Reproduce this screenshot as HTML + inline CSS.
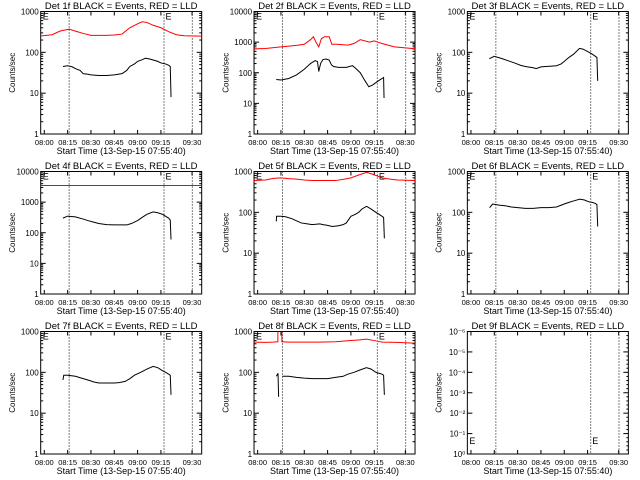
<!DOCTYPE html>
<html><head><meta charset="utf-8"><style>
html,body{margin:0;padding:0;background:#fff;}
svg{display:block;}
text{font-family:"Liberation Sans",sans-serif;fill:#000;}
</style></head><body>
<svg id="chart" width="640" height="480" viewBox="0 0 640 480"></svg>
<script>
// ---- data (minutes after 08:00, counts/sec) ----
const tickLabels1 = ["08:00","08:15","08:30","08:45","09:00","09:15","09:30"];
const tickLabels2 = ["08:00","08:15","08:30","08:45","09:00","09:15","08:30"];
const tickMinutes = [0,15,30,45,60,75,95];
const markerMinutes = [16,77,95.2];
const titles = ["Det 1f","Det 2f","Det 3f","Det 4f","Det 5f","Det 6f","Det 7f","Det 8f","Det 9f"];
const decades = [3,4,3,4,3,3,3,3,6];

const blackT1 = [12,15,18,20,23,25,28,30,35,40,45,50,53,55,58,60,63,65,68,70,73,75,78,80,81,81.5];
const blackV1 = [45,47,44,40,36,30,29,28,27,27,28,30,36,45,52,60,66,72,68,65,60,55,52,48,45,8];
const redT1 = [-3,5,10,16,20,25,30,40,45,50,55,60,63,66,70,75,80,85,90,100,102];
const redV1 = [250,270,330,370,330,290,260,260,265,280,400,500,560,540,460,400,320,270,255,250,250];

const blackT2 = [12,15,20,25,30,34,37,38.5,39.3,40.5,42,44,46,47.5,48.8,52,57,61,63,66,69,71.5,74,77.8,81,81.3];
const blackV2 = [60,58,65,85,130,200,250,230,110,200,270,280,260,180,160,150,150,170,140,100,55,35,40,55,70,15];
const redT2 = [-3,5,15,25,30,34,35.9,37.5,39.3,41,43,46,47.7,51,58,62,66,72,75,80,88,102];
const redV2 = [600,620,700,780,850,1200,1500,1000,700,1300,1500,1500,850,850,800,900,1200,1000,1100,900,700,600];

const blackT3 = [11.8,15,20,24,28,32,35,40,42,45,48,52,55,58,60,63,66,69.8,72,76,78,80,81,81.5];
const blackV3 = [70,80,70,62,55,48,45,42,40,44,45,46,47,52,60,75,90,125,120,100,90,80,75,20];
const redT3 = [];
const redV3 = [];

const blackT4 = [12,15,20,25,28,32,35,40,45,50,53,56,60,63,66,70,73,76,80,81,81.5];
const blackV4 = [300,350,330,280,250,220,200,185,180,180,180,200,250,320,400,480,450,400,300,260,60];
const redT4 = [-3,102];
const redV4 = [3500,3500];

const blackT5 = [12,12.2,15,18,22,25,28,32,35,40,42,45,48,52,55,57,60,63,65,67,70,73,76,78,80,81,81.5];
const blackV5 = [60,80,80,78,70,62,55,52,50,52,50,48,45,47,50,55,80,90,100,120,140,120,100,90,80,75,23];
const redT5 = [-3,5,10,15,20,25,30,35,40,50,55,60,65,70,73,76,80,85,90,102];
const redV5 = [600,620,680,700,670,650,620,600,600,600,640,700,820,950,880,800,700,650,620,600];

const blackT6 = [12,13,14,18,22,26,30,35,40,45,50,55,60,63,66,70,73,76,78,80,81,81.5];
const blackV6 = [130,145,160,150,145,135,130,125,125,130,130,135,160,175,190,210,200,180,175,165,155,45];
const redT6 = [];
const redV6 = [];

const blackT7 = [12,12.5,15,20,25,28,32,35,40,45,48,52,55,58,62,66,70,73,76,78,80,81,81.5];
const blackV7 = [65,85,85,80,70,65,58,55,55,55,56,60,70,85,100,120,140,130,110,100,90,85,28];
const redT7 = [-3,102];
const redV7 = [1050,1050];

const blackT8 = [12,12.8,13.1,13.5,16,16.1,20,25,30,35,40,45,50,55,58,62,66,70,73,76,78,80,81,81.5];
const blackV8 = [80,90,95,25,null,80,80,75,72,70,70,70,75,80,90,100,115,130,120,100,95,90,85,28];
const redT8 = [-3,5,10,13,13.1,15.5,15.6,20,30,40,50,60,65,70,75,80,90,100,102];
const redV8 = [550,540,550,560,5000,5000,560,550,550,550,560,600,620,650,600,550,540,520,520];

const blackT9 = [];
const blackV9 = [];
const redT9 = [];
const redV9 = [];

const blackTs=[blackT1,blackT2,blackT3,blackT4,blackT5,blackT6,blackT7,blackT8,blackT9];
const blackVs=[blackV1,blackV2,blackV3,blackV4,blackV5,blackV6,blackV7,blackV8,blackV9];
const redTs=[redT1,redT2,redT3,redT4,redT5,redT6,redT7,redT8,redT9];
const redVs=[redV1,redV2,redV3,redV4,redV5,redV6,redV7,redV8,redV9];

const NS="http://www.w3.org/2000/svg";
const svg=document.getElementById("chart");
function mk(tag,attrs,parent){const e=document.createElementNS(NS,tag);for(const k in attrs)e.setAttribute(k,attrs[k]);(parent||svg).appendChild(e);return e;}

const supMinus = ["10\u2070","10\u207B\u00B9","10\u207B\u00B2","10\u207B\u00B3","10\u207B\u2074","10\u207B\u2075","10\u207B\u2076"];

for(let p=0;p<9;p++){
  const c=p%3, r=Math.floor(p/3);
  const ox=c*213.33, oy=r*160;
  const L=ox+40.7, W=161, T=oy+11.5, H=122.5, B=T+H;
  const nd=decades[p];
  const xs=t=>L+3.6+t*1.555;
  const ys=v=>B-(Math.log10(v)/nd)*H;
  const g=mk("g",{});
  
  
  const cp=mk("clipPath",{id:"cp"+p},g);
  mk("rect",{x:L,y:T,width:W,height:H},cp);

  const title=mk("text",{x:L+W/2,y:oy+9,"font-size":"9.5","text-anchor":"middle"},g);
  title.textContent=titles[p]+" BLACK = Events, RED = LLD";
  
  

  const yl=mk("text",{x:0,y:0,"font-size":"8","text-anchor":"middle",transform:`translate(${ox+15},${T+H/2}) rotate(-90)`},g);
  yl.textContent="Counts/sec";
  
  

  const xl=mk("text",{x:L+W/2,y:oy+154,"font-size":"9","text-anchor":"middle"},g);
  xl.textContent="Start Time (13-Sep-15 07:55:40)";
  
  

  const box=mk("rect",{x:L,y:T,width:W,height:H,fill:"none",stroke:"#000","stroke-width":"1"},g);
  
  

  if(p<8){
    for(let d=0;d<=nd;d++){
      const y=B-d/nd*H;
      mk("line",{x1:L,x2:L+5,y1:y,y2:y,stroke:"#000"},g);
      mk("line",{x1:L+W-5,x2:L+W,y1:y,y2:y,stroke:"#000"},g);
      const lb=mk("text",{x:L-2,y:y+3,"font-size":"8","text-anchor":"end"},g);
      lb.textContent=String(Math.pow(10,d));
      
      
      if(d<nd){for(let m=2;m<10;m++){const ym=B-(d+Math.log10(m))/nd*H;
        mk("line",{x1:L,x2:L+2.5,y1:ym,y2:ym,stroke:"#000"},g);
        mk("line",{x1:L+W-2.5,x2:L+W,y1:ym,y2:ym,stroke:"#000"},g);}}
    }
  } else {
    for(let d=0;d<=6;d++){
      const y=B-d/6*H;
      mk("line",{x1:L,x2:L+5,y1:y,y2:y,stroke:"#000"},g);
      mk("line",{x1:L+W-5,x2:L+W,y1:y,y2:y,stroke:"#000"},g);
      const lb=mk("text",{x:L-2,y:y+3,"font-size":"8","text-anchor":"end"},g);
      lb.textContent=supMinus[d];
      
      
      for(let m=1;m<5;m++){const ym=y-m*H/30;if(d<6)mk("line",{x1:L+W-2,x2:L+W,y1:ym,y2:ym,stroke:"#000"},g);}
    }
  }
  const labs=(c===1)?tickLabels2:tickLabels1;
  tickMinutes.forEach((t,i)=>{
    const x=xs(t);
    mk("line",{x1:x,x2:x,y1:B,y2:B-4,stroke:"#000"},g);
    mk("line",{x1:x,x2:x,y1:T,y2:T+4,stroke:"#000"},g);
    const lb=mk("text",{x:x,y:oy+145,"font-size":"7.5","text-anchor":"middle"},g);
    lb.textContent=labs[i];
    
    
  });
  markerMinutes.forEach(t=>{
    const ln=mk("line",{x1:xs(t),x2:xs(t),y1:T,y2:B,stroke:"#000","stroke-dasharray":"1,2"},g);
    
    
  });
  const ey=(p===8)?B-10:T+8;
  [L+2,xs(markerMinutes[1])+1.5].forEach(x=>{
    const e=mk("text",{x:x,y:ey,"font-size":"9"},g);
    e.textContent="E";
    
    
  });

  function draw(ts,vs,color,name){
    if(!ts.length)return;
    let d="",pen=false;
    ts.forEach((t,i)=>{const v=vs[i];if(v===null){pen=false;return;}
      d+=(pen?"L":"M")+xs(t).toFixed(2)+","+ys(v).toFixed(2);pen=true;});
    const pth=mk("path",{d:d,fill:"none",stroke:color,"stroke-width":"1","clip-path":`url(#cp${p})`},g);
    
    
  }
  draw(redTs[p],redVs[p],"#ff0000","lld-series");
  draw(blackTs[p],blackVs[p],"#000","events-series");
}
</script>
</body></html>
